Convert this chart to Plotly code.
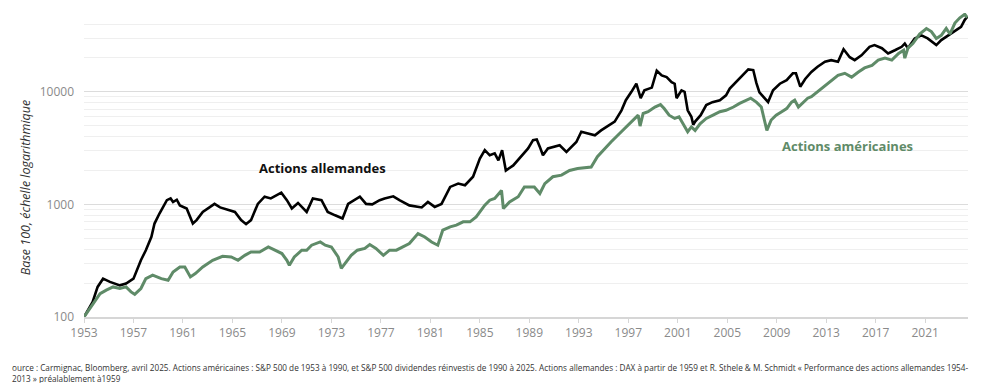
import numpy as np
import plotly.graph_objects as go

# Actions allemandes (base 100)
de_years = [1953.0, 1953.7, 1954.1, 1954.54, 1955.1, 1955.9, 1956.4, 1957.0, 1957.6, 1958.0,
            1958.45, 1958.7, 1959.1, 1959.7, 1960.0, 1960.2, 1960.5, 1960.75, 1961.3, 1961.8,
            1962.1, 1962.6, 1963.2, 1963.55, 1964.0, 1964.6, 1965.2, 1965.7, 1966.1, 1966.5,
            1967.05, 1967.6, 1968.1, 1968.95, 1969.4, 1969.8, 1970.3, 1971.0, 1971.5, 1972.2,
            1972.7, 1973.3, 1973.9, 1974.35, 1975.3, 1975.8, 1976.3, 1976.9, 1977.3, 1978.0,
            1978.5, 1979.3, 1980.3, 1980.8, 1981.35, 1981.9, 1982.6, 1983.25, 1983.8, 1984.45,
            1985.0, 1985.4, 1985.8, 1986.2, 1986.5, 1986.8, 1987.1, 1987.7, 1988.35, 1988.9,
            1989.3, 1989.6, 1989.85, 1990.1, 1990.5, 1991.05, 1991.45, 1992.0, 1992.4, 1992.8,
            1993.2, 1993.75, 1994.3, 1994.8, 1995.5, 1995.9, 1996.45, 1996.8, 1997.25, 1997.65,
            1998.0, 1998.3, 1998.9, 1999.3, 1999.7, 2000.1, 2000.5, 2000.75, 2000.9, 2001.3,
            2001.55, 2001.8, 2002.1, 2002.25, 2002.4, 2002.85, 2003.3, 2003.8, 2004.4, 2004.9,
            2005.2, 2005.7, 2006.3, 2006.7, 2007.1, 2007.35, 2007.6, 2008.2, 2008.3, 2008.7,
            2009.25, 2009.8, 2010.3, 2010.55, 2010.9, 2011.3, 2011.8, 2012.3, 2012.9, 2013.4,
            2013.95, 2014.4, 2014.9, 2015.3, 2015.85, 2016.5, 2016.9, 2017.5, 2018.0, 2018.55,
            2019.1, 2019.35, 2019.6, 2020.15, 2020.7, 2021.2, 2021.9, 2022.3, 2022.85, 2023.4,
            2023.9, 2024.2, 2024.4]
de_values = [100, 136, 185, 219, 205, 191, 198, 219, 319, 392,
             516, 676, 830, 1090, 1130, 1050, 1100, 980, 920, 676,
             725, 858, 950, 1010, 940, 900, 858, 725, 668, 725,
             1010, 1170, 1130, 1270, 1090, 920, 1030, 858, 1130, 1090,
             858, 800, 750, 1010, 1170, 1010, 1000, 1090, 1130, 1180,
             1090, 980, 940, 1050, 950, 1010, 1430, 1530, 1480, 1760,
             2550, 3030, 2730, 2840, 2460, 3030, 2000, 2220, 2650, 3140,
             3720, 3780, 3240, 2730, 3140, 3240, 3350, 2930, 3240, 3580,
             4420, 4250, 4110, 4540, 5100, 5440, 6850, 8420, 10000, 11800,
             8780, 10300, 10900, 15400, 14000, 13500, 12200, 11800, 8780, 10300,
             10000, 6850, 6000, 5100, 5440, 6200, 7630, 8100, 8420, 9300,
             10700, 12200, 14000, 15800, 15600, 12000, 9900, 8420, 8100, 10300,
             11800, 12700, 14600, 14600, 11100, 13000, 15000, 16700, 18500, 19100,
             18500, 23900, 20300, 19100, 21100, 25100, 26000, 24400, 21900, 23400,
             25100, 26800, 24400, 29800, 31700, 29800, 26000, 28800, 31700, 34300,
             37700, 43600, 46400]

# Actions américaines (base 100)
us_years = [1953.0, 1953.7, 1954.3, 1954.8, 1955.35, 1955.9, 1956.4, 1956.8, 1957.1, 1957.6,
            1958.0, 1958.55, 1959.25, 1959.8, 1960.2, 1960.75, 1961.15, 1961.6, 1962.0, 1962.6,
            1963.4, 1964.2, 1964.9, 1965.45, 1966.0, 1966.5, 1967.2, 1967.9, 1968.4, 1969.0,
            1969.4, 1969.6, 1970.0, 1970.6, 1971.0, 1971.4, 1972.1, 1972.5, 1973.0, 1973.55,
            1973.8, 1974.1, 1974.6, 1975.1, 1975.7, 1976.1, 1976.6, 1977.2, 1977.7, 1978.25,
            1978.8, 1979.3, 1980.0, 1980.55, 1981.1, 1981.6, 1982.0, 1982.6, 1983.1, 1983.65,
            1984.2, 1984.7, 1985.4, 1985.8, 1986.2, 1986.75, 1986.9, 1987.4, 1988.1, 1988.6,
            1989.4, 1989.85, 1990.25, 1990.9, 1991.6, 1992.25, 1992.9, 1993.45, 1994.0, 1994.5,
            1995.1, 1995.6, 1996.15, 1996.7, 1997.25, 1997.8, 1997.95, 1998.2, 1998.6, 1999.15,
            1999.6, 1999.9, 2000.3, 2000.75, 2001.1, 2001.5, 2001.8, 2002.1, 2002.4, 2002.8,
            2003.3, 2003.85, 2004.4, 2004.9, 2005.5, 2006.0, 2006.55, 2006.9, 2007.35, 2007.75,
            2008.0, 2008.2, 2008.55, 2008.95, 2009.4, 2009.8, 2010.2, 2010.45, 2010.75, 2011.1,
            2011.5, 2011.8, 2012.3, 2012.9, 2013.4, 2013.95, 2014.5, 2015.05, 2015.6, 2016.1,
            2016.7, 2017.2, 2017.75, 2018.3, 2018.85, 2019.25, 2019.35, 2019.6, 2020.0, 2020.55,
            2021.1, 2021.5, 2021.9, 2022.3, 2022.7, 2023.0, 2023.4, 2023.8, 2024.2, 2024.4]
us_values = [100, 131, 161, 173, 185, 179, 185, 167, 159, 179,
             219, 235, 219, 212, 251, 278, 278, 227, 243, 278,
             319, 346, 341, 319, 353, 378, 378, 419, 392, 366,
             319, 288, 341, 392, 392, 434, 464, 434, 419, 341,
             270, 298, 353, 392, 406, 440, 406, 353, 392, 392,
             419, 449, 551, 514, 464, 434, 590, 632, 654, 700,
             700, 773, 985, 1090, 1130, 1330, 920, 1050, 1170, 1430,
             1430, 1250, 1530, 1760, 1820, 2000, 2080, 2130, 2150, 2650,
             3140, 3580, 4110, 4700, 5440, 6200, 4960, 6420, 6650, 7330,
             7700, 7100, 6200, 5800, 6000, 5100, 4420, 4880, 4540, 5200,
             5800, 6200, 6650, 6850, 7330, 7900, 8420, 8780, 8100, 7330,
             5620, 4540, 5620, 6200, 6650, 7100, 8100, 8420, 7330, 7900,
             8780, 9050, 10000, 11400, 12700, 14000, 14600, 13500, 15000, 16300,
             17200, 19100, 19900, 19100, 21900, 23400, 19900, 24400, 26800, 32600,
             36500, 34300, 29800, 31700, 36500, 32600, 40800, 45400, 48900, 45700]

x_tick_vals = list(range(1953, 2022, 4))
x_tick_text = [str(v) for v in x_tick_vals]
y_tick_vals = [100, 1000, 10000]
y_tick_text = ["100", "1000", "10000"]
y_minor_vals = [m * d for d in (100, 1000) for m in range(2, 10)] + [20000, 30000, 40000, 50000]

FONT = "Open Sans"
GREEN = "#5f8b68"

fig = go.Figure()
fig.add_trace(go.Scatter(x=de_years, y=de_values, mode="lines",
                         line=dict(color="#000000", width=2.6), name="Actions allemandes",
                         showlegend=False))
fig.add_trace(go.Scatter(x=us_years, y=us_values, mode="lines",
                         line=dict(color=GREEN, width=3), name="Actions américaines",
                         showlegend=False))

fig.update_layout(
    width=995, height=383,
    margin=dict(l=84, r=27, t=13, b=66),
    paper_bgcolor="white", plot_bgcolor="white",
    font=dict(family=FONT, color="#333333"),
    xaxis=dict(range=[1953, 2024.46], tickvals=x_tick_vals, ticktext=x_tick_text,
               showgrid=False, zeroline=False, showline=True, linecolor="#d6d6d6", linewidth=1.5,
               ticks="outside", ticklen=4, tickcolor="#d6d6d6",
               tickfont=dict(family=FONT, size=12, color="#8a8a8a")),
    yaxis=dict(type="log", range=[2, 4.7], tickvals=y_tick_vals, ticktext=y_tick_text,
               showgrid=True, gridcolor="#dcdcdc", gridwidth=1.3, zeroline=False, showline=False,
               ticks="", ticklabelstandoff=9,
               tickfont=dict(family=FONT, size=12, color="#8a8a8a"),
               minor=dict(tickvals=y_minor_vals, showgrid=True, gridcolor="#efefef", gridwidth=1.3, ticks="")),
    annotations=[
        dict(text="<i>Base 100, échelle logarithmique</i>", textangle=-90, xref="paper", yref="paper",
             x=(25 - 84) / 884, y=(316.7 - 188) / 303.7, showarrow=False, xanchor="center", yanchor="middle",
             font=dict(family=FONT, size=12.5, color="#333333")),
        dict(text="<b>Actions allemandes</b>", xref="x", yref="y", x=1972.3, y=np.log10(2100),
             showarrow=False, xanchor="center", yanchor="middle",
             font=dict(family=FONT, size=13, color="#111111")),
        dict(text="<b>Actions américaines</b>", xref="x", yref="y", x=2014.74, y=np.log10(3290),
             showarrow=False, xanchor="center", yanchor="middle",
             font=dict(family=FONT, size=13, color=GREEN)),
        dict(text="ource : Carmignac, Bloomberg, avril 2025. Actions américaines : S&P 500 de 1953 à 1990, et S&P 500 dividendes réinvestis de 1990 à 2025. Actions allemandes : DAX à partir de 1959 et R. Sthele & M. Schmidt « Performance des actions allemandes 1954-<br>2013 » préalablement à1959",
             xref="paper", yref="paper", x=(10 - 84) / 884, y=-(360 - 316.7) / 303.7,
             showarrow=False, xanchor="left", yanchor="top", align="left",
             font=dict(family=FONT, size=8.2, color="#333333")),
    ],
)

fig.write_html("out.html", config={"displayModeBar": False},
               post_script="document.body.style.margin='0';document.body.style.padding='0';")
